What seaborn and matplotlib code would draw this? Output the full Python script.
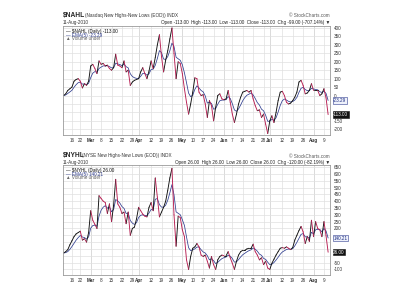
# -*- coding: utf-8 -*-

import pandas as pd
import seaborn as sns
import matplotlib.pyplot as plt
from matplotlib.transforms import blended_transform_factory

# trading days shown on the chart (9-Feb-2010 .. 11-Aug-2010, market holidays removed)
holidays = ['2010-02-15', '2010-04-02', '2010-05-31', '2010-07-05']
days = pd.bdate_range('2010-02-09', '2010-08-11').drop(pd.to_datetime(holidays))

tick_dates = ['2010-02-16', '2010-02-22', '2010-03-01', '2010-03-08', '2010-03-15',
              '2010-03-22', '2010-03-29', '2010-04-01', '2010-04-12', '2010-04-19',
              '2010-04-26', '2010-05-03', '2010-05-10', '2010-05-17', '2010-05-24',
              '2010-06-01', '2010-06-07', '2010-06-14', '2010-06-21', '2010-06-28',
              '2010-07-01', '2010-07-12', '2010-07-19', '2010-07-26', '2010-08-02',
              '2010-08-09']
tick_labels = ['16', '22', 'Mar', '8', '15', '22', '29', 'Apr', '12', '19', '26', 'May',
               '10', '17', '24', 'Jun', '7', '14', '21', '28', 'Jul', '12', '19', '26',
               'Aug', '9']
month_labels = ['Mar', 'Apr', 'May', 'Jun', 'Jul', 'Aug']

# $NAHL daily close
nahl = [0, 10, 30, 40, 50, 85, 95, 100, 85, 45, 70, 60, 85,
        175, 185, 160, 130, 205, 185, 190, 175, 180, 160, 150, 165, 245, 180, 175, 165,
        205, 140, 150, 60, 80, 90, 95,
        100, 140, 165, 130, 100, 145, 205, 160, 225, 300, 360, 230, 140, 210, 265, 335,
        400, 250, 100, 200, 190,
        130, 40, -40, -110, -50, 20, 105, 100, 20, 0, 5, -50, -130, -30, -60, -150, -70,
        0, 10, -20,
        -25, -20, 30, -40, -110, -160, -110, -50, -10, 20, 25, 30, 20, 30, -20, -60, -90,
        -85, -130, -110, -170, -225,
        -150, -120, -160, -100, -30, 20, 25, 0, -40, -50, -45, -30, -10, 20, 80, 90, 60,
        10, 15, 30, 70,
        30, 30, 30, 0, 10, 40, -14, -113]

# $NYHL daily close
nyhl = [20, 30, 45, 80, 110, 140, 160, 170, 180, 115, 125, 100, 170,
        330, 260, 230, 200, 440, 420, 400, 390, 310, 380, 250, 370, 560, 380, 355, 310,
        320, 235, 320, 150, 200, 210, 270,
        355, 330, 305, 290, 285, 355, 390, 330, 570, 430, 285, 320, 355, 400, 480, 570,
        640, 300, 70, 290, 280,
        190, 140, -30, -100, -5, 55, 65, 90, 65, 5, -5, 5, -40, -90, -5, -65, -100,
        -30, -5, 5,
        0, 0, 30, -15, -55, -100, -40, 5, 30, 40, 40, 50, 55, 55, 85, 30, 5,
        -30, -15, -65, -40, -90,
        -100, -55, -25, 5, 30, 55, 60, 55, 65, 55, 45, 60, 115, 150, 185, 215, 175,
        90, 140, 105, 260,
        140, 250, 200, 190, 140, 250, 146, 26]

panels = [
    dict(sym='$NAHL', name='(Nasdaq New Highs-New Lows (EOD)) INDX', vals=nahl,
         ohlc='Open -113.00  High -113.00  Low -113.00  Close -113.00  Chg -99.00 (-707.14%) \u25bc',
         last='-113.00', ema_txt='-23.29', ylim=(-234, 412), yticks=range(-200, 401, 50),
         pos=[0.1575, 0.55, 0.6675, 0.3633], head_y=0.947, name_x=0.2125),
    dict(sym='$NYHL', name='(NYSE New Highs-New Lows (EOD)) INDX', vals=nyhl,
         ohlc='Open 26.00  High 26.00  Low 26.00  Close 26.00  Chg -120.00 (-82.19%) \u25bc',
         last='26.00', ema_txt='140.21', ylim=(-141, 665), yticks=range(-100, 651, 50),
         pos=[0.1575, 0.0833, 0.6675, 0.3667], head_y=0.48, name_x=0.205),
]

sns.set_style('white')
plt.rcParams['font.family'] = ['Liberation Sans', 'DejaVu Sans']

up_col, down_col, ema_col = '#111111', '#b81e52', '#2f3d8f'
fs = 3.3

fig = plt.figure(figsize=(4, 3), dpi=100)
tick_pos = [days.get_loc(pd.Timestamp(d)) for d in tick_dates]

for p in panels:
    vals = p['vals']
    ax = fig.add_axes(p['pos'])
    # daily line, black on up days and red on down days
    rows = []
    for i in range(len(vals) - 1):
        d = 'up' if vals[i + 1] >= vals[i] else 'down'
        rows.append((i, i, vals[i], d))
        rows.append((i, i + 1, vals[i + 1], d))
    seg = pd.DataFrame(rows, columns=['seg', 'x', 'v', 'dir'])
    ema = pd.Series(vals).ewm(span=5, adjust=False).mean()

    sns.lineplot(x=list(range(len(vals))), y=ema, color=ema_col, lw=0.55, ax=ax)
    sns.lineplot(data=seg, x='x', y='v', units='seg', hue='dir', estimator=None, sort=False,
                 palette={'up': up_col, 'down': down_col}, lw=0.65, legend=False, ax=ax)

    lo, hi = p['ylim']
    ax.set_xlim(-0.3, len(vals) - 0.1)
    ax.set_ylim(lo, hi)
    ax.set_xticks(tick_pos)
    ax.set_xticklabels(tick_labels)
    for lab in ax.get_xticklabels():
        if lab.get_text() in month_labels:
            lab.set_fontweight('bold')

    # price labels hidden where the last-value boxes sit on top of them
    px_per_unit = p['pos'][3] * 300 / (hi - lo)
    yt = list(p['yticks'])
    ylabs = []
    for t in yt:
        gap = min(abs(t - ema.iloc[-1]), abs(t - vals[-1])) * px_per_unit
        ylabs.append('' if gap < 4.5 else str(t))
    ax.set_yticks(yt)
    ax.set_yticklabels(ylabs)
    ax.yaxis.tick_right()

    ax.grid(True, color='#e0e0e0', lw=0.5)
    for t, lab in zip(tick_pos, tick_labels):
        if lab in month_labels:
            ax.axvline(t, color='#c8c8c8', lw=0.6, zorder=0)
    ax.tick_params(axis='both', length=0, labelsize=fs, colors='#333333')
    ax.tick_params(axis='x', pad=2)
    ax.tick_params(axis='y', pad=3)
    ax.set_xlabel('')
    ax.set_ylabel('')
    for s in ax.spines.values():
        s.set_color('#9a9a9a')
        s.set_linewidth(0.6)

    # last-value boxes on the price axis
    tr = blended_transform_factory(ax.transAxes, ax.transData)
    ax.text(1.012, ema.iloc[-1], p['ema_txt'], transform=tr, fontsize=fs, ha='left', va='center',
            color='#1c2c80', bbox=dict(boxstyle='square,pad=0.15', fc='#eef1fb', ec=ema_col, lw=0.4))
    ax.text(1.012, vals[-1], p['last'], transform=tr, fontsize=fs, ha='left', va='center',
            color='white', bbox=dict(boxstyle='square,pad=0.15', fc='#111111', ec='#111111', lw=0.4))

    # legend in the upper left corner
    ax.text(0.012, 0.975, '\u2014 %s (Daily) %s' % (p['sym'], p['last']), transform=ax.transAxes,
            fontsize=fs, va='top', color=up_col)
    ax.text(0.012, 0.94, '\u2014 EMA(5) %s' % p['ema_txt'], transform=ax.transAxes,
            fontsize=fs, va='top', color=ema_col)
    ax.text(0.012, 0.905, '\u25b2 Volume undef', transform=ax.transAxes,
            fontsize=fs, va='top', color='#666666')

    # chart header
    hy = p['head_y']
    fig.text(0.1575, hy, p['sym'], fontsize=4.8, fontweight='bold', va='center')
    fig.text(p['name_x'], hy, p['name'], fontsize=fs, va='center', color='#333333')
    fig.text(0.825, hy, '\u00a9 StockCharts.com', fontsize=fs, va='center', ha='right', color='#555555')
    fig.text(0.1575, hy - 0.021, '11-Aug-2010', fontsize=fs, va='center', color='#333333')
    fig.text(0.825, hy - 0.021, p['ohlc'], fontsize=fs, va='center', ha='right', color='#222222')

plt.savefig('out.png', dpi=100)
